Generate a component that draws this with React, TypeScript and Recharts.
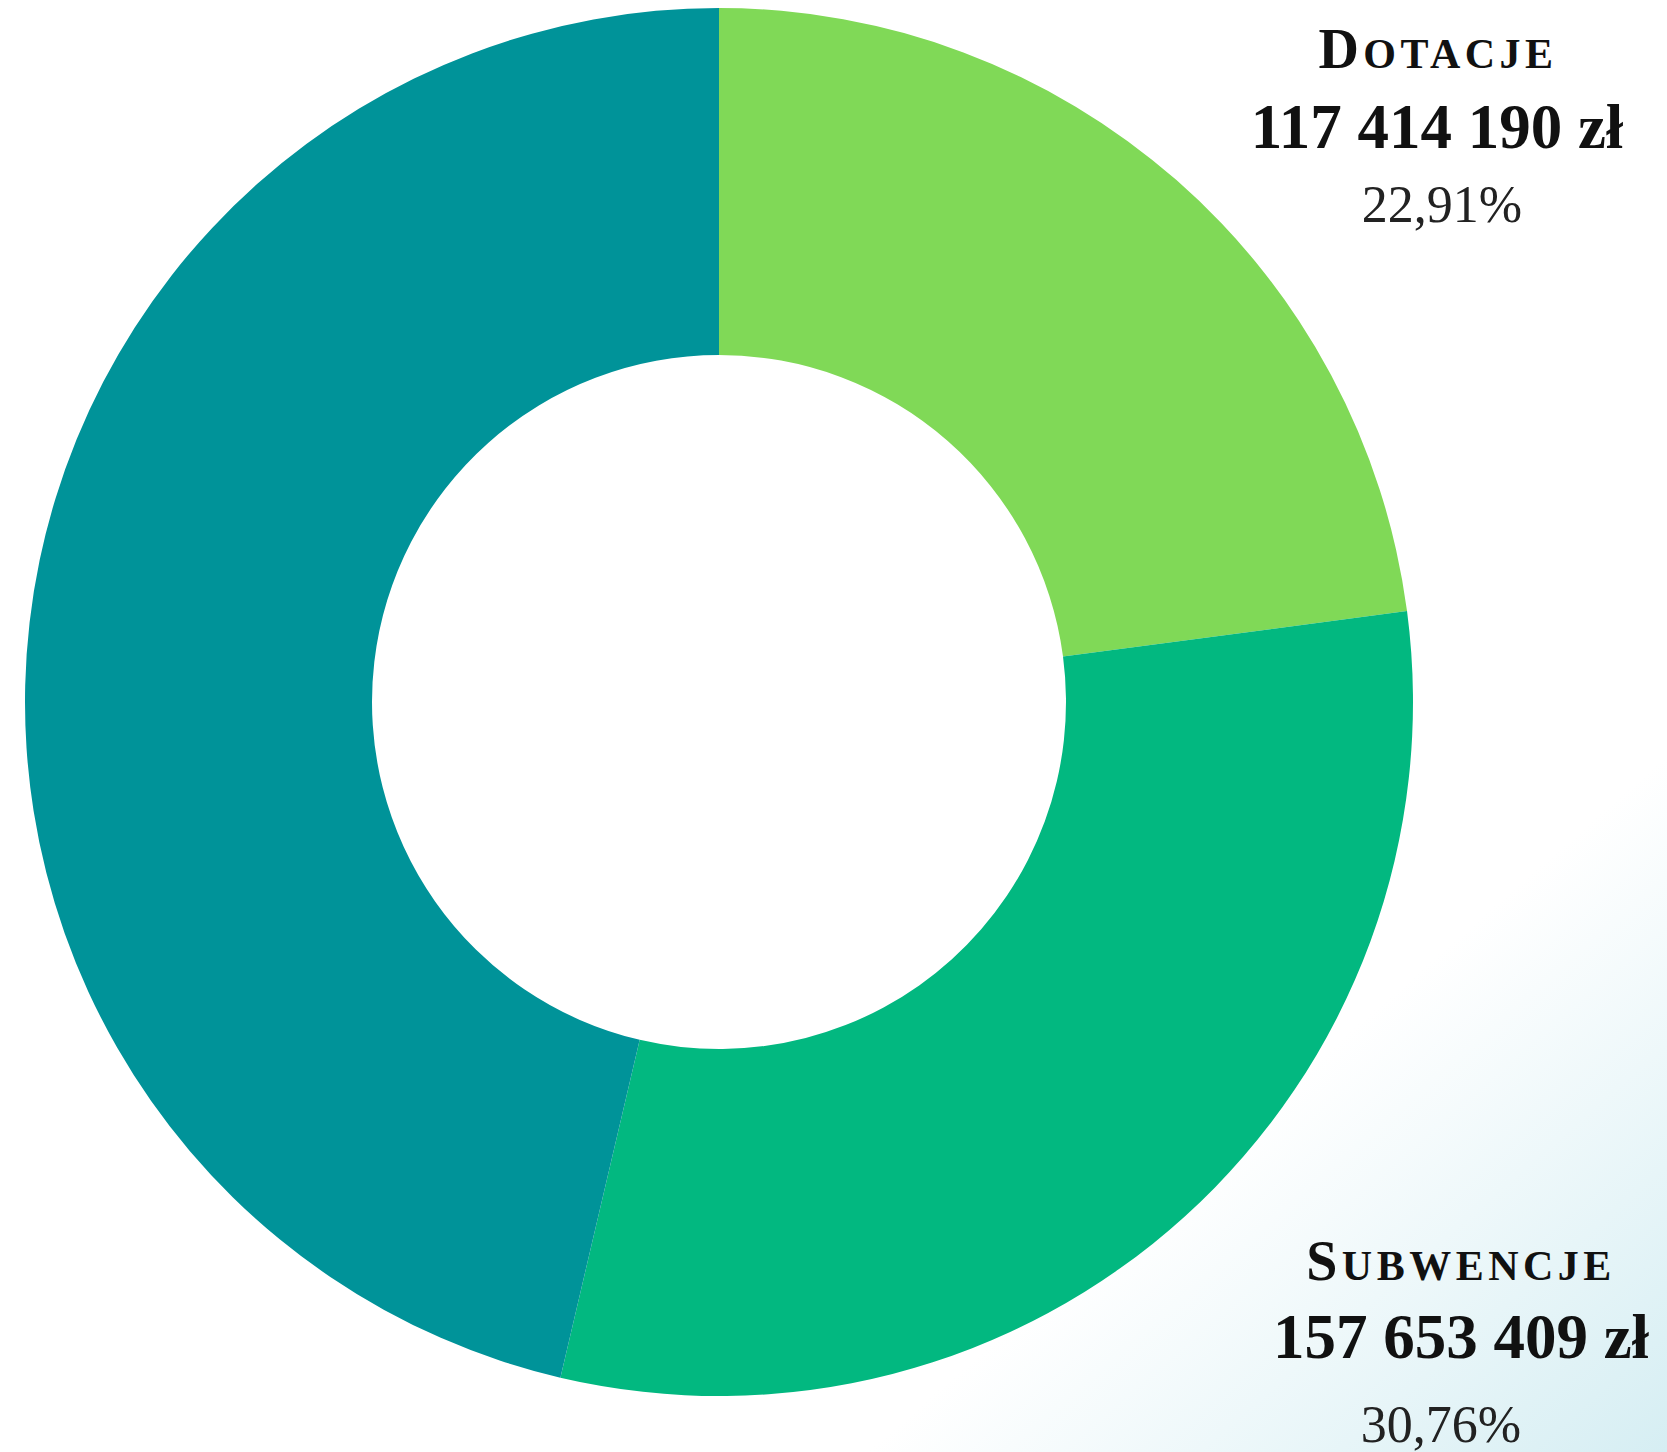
import React from "react";
import { PieChart, Pie, Cell } from "recharts";

const categories = ["Dotacje", "Subwencje", "Pozostałe"];
const amounts = [117414190, 157653409, 237450000];
const amountLabels = ["117 414 190 zł", "157 653 409 zł", ""];
const percentLabels = ["22,91%", "30,76%", ""];
const colors = ["#80D957", "#02B880", "#009399"];

const data = categories.map((name, i) => ({ name, value: amounts[i] }));

const W = 1667;
const H = 1452;

// label layout (text anchors) per slice
const labelLayout = [
  { x: 1438, y1: 68, x2: 1437, y2: 148, x3: 1442, y3: 222 },
  { x: 1461, y1: 1280, x2: 1461, y2: 1358, x3: 1441, y3: 1442 },
];

const serif = "'Liberation Serif', 'DejaVu Serif', serif";

function SmallCaps({ text, x, y }: { text: string; x: number; y: number }) {
  const first = text.charAt(0).toUpperCase();
  const rest = text.slice(1).toUpperCase();
  return (
    <text
      x={x}
      y={y}
      textAnchor="middle"
      fontFamily={serif}
      fontWeight={700}
      fill="#111"
      letterSpacing={4.5}
    >
      <tspan fontSize={56}>{first}</tspan>
      <tspan fontSize={42}>{rest}</tspan>
    </text>
  );
}

const renderLabel = (props: any) => {
  const i = props.index;
  if (i > 1) return null;
  const L = labelLayout[i];
  return (
    <g key={"lbl" + i}>
      <SmallCaps text={categories[i]} x={L.x} y={L.y1} />
      <text
        x={L.x2}
        y={L.y2}
        textAnchor="middle"
        fontFamily={serif}
        fontWeight={700}
        fontSize={63}
        fill="#111"
      >
        {amountLabels[i]}
      </text>
      <text
        x={L.x3}
        y={L.y3}
        textAnchor="middle"
        fontFamily={serif}
        fontWeight={400}
        fontSize={52}
        fill="#222"
      >
        {percentLabels[i]}
      </text>
    </g>
  );
};

export default function App() {
  return (
    <div
      style={{
        position: "fixed",
        left: 0,
        top: 0,
        width: W,
        height: H,
        background:
          "linear-gradient(to bottom right, #ffffff 0%, #ffffff 76%, #d6eef3 100%)",
        overflow: "hidden",
      }}
    >
      <PieChart width={W} height={H}>
        <Pie
          data={data}
          dataKey="value"
          nameKey="name"
          cx={714}
          cy={697}
          innerRadius={347}
          outerRadius={694}
          startAngle={90}
          endAngle={-270}
          stroke="none"
          isAnimationActive={false}
          label={renderLabel}
          labelLine={false}
        >
          {data.map((d, i) => (
            <Cell key={d.name} fill={colors[i]} />
          ))}
        </Pie>
      </PieChart>
    </div>
  );
}
